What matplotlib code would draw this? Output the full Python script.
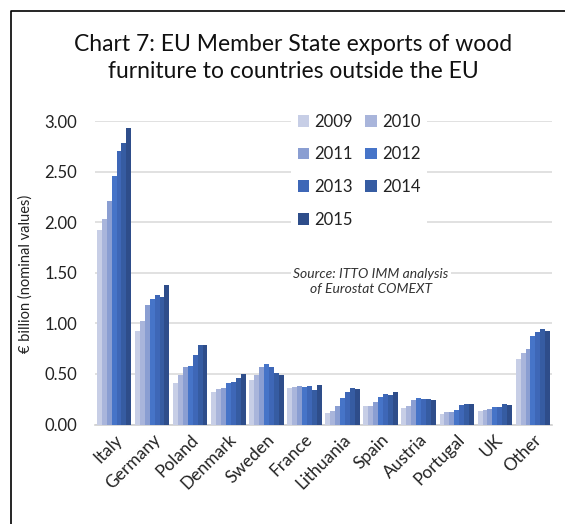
import matplotlib
matplotlib.use("Agg")
import matplotlib.pyplot as plt
import numpy as np
from matplotlib.lines import Line2D

plt.rcParams['font.family'] = ['Lato', 'DejaVu Sans']

countries = ["Italy", "Germany", "Poland", "Denmark", "Sweden", "France",
             "Lithuania", "Spain", "Austria", "Portugal", "UK", "Other"]
years = ["2009", "2010", "2011", "2012", "2013", "2014", "2015"]
v2009 = [1.92, 0.92, 0.41, 0.32, 0.44, 0.365, 0.11, 0.18, 0.16, 0.10, 0.13, 0.65]
v2010 = [2.03, 1.02, 0.49, 0.35, 0.49, 0.37, 0.13, 0.18, 0.18, 0.12, 0.14, 0.71]
v2011 = [2.21, 1.18, 0.57, 0.365, 0.565, 0.38, 0.18, 0.22, 0.24, 0.12, 0.15, 0.75]
v2012 = [2.46, 1.24, 0.58, 0.41, 0.60, 0.37, 0.26, 0.27, 0.26, 0.14, 0.17, 0.87]
v2013 = [2.70, 1.28, 0.69, 0.42, 0.565, 0.38, 0.32, 0.30, 0.25, 0.19, 0.17, 0.91]
v2014 = [2.78, 1.26, 0.79, 0.46, 0.51, 0.34, 0.36, 0.29, 0.25, 0.20, 0.20, 0.94]
v2015 = [2.93, 1.375, 0.79, 0.50, 0.49, 0.39, 0.35, 0.32, 0.24, 0.20, 0.19, 0.925]
series = [v2009, v2010, v2011, v2012, v2013, v2014, v2015]
colors = ["#c7cee6", "#a9b5db", "#8a9ed2", "#4674c8", "#3e67b7", "#365ca2", "#2e4d8a"]
yticks = [0.0, 0.5, 1.0, 1.5, 2.0, 2.5, 3.0]

W, H = 565, 524
fig = plt.figure(figsize=(W / 100, H / 100), dpi=100)
ax = fig.add_axes([95 / W, 1 - 424.5 / H, (552 - 95) / W, (424.5 - 121) / H])

x = np.arange(len(countries))
n = len(series)
gw = 0.905
bw = gw / n
handles = []
for i, (vals, c) in enumerate(zip(series, colors)):
    b = ax.bar(x - gw / 2 + bw * (i + 0.5), vals, width=bw, color=c, label=years[i], zorder=3)
    handles.append(b)

ax.set_xlim(-0.5, len(countries) - 0.5)
ax.set_ylim(0, 3.0)
ax.set_yticks(yticks)
ax.set_yticklabels([f"{t:.2f}" for t in yticks], fontsize=12, color="#222222")
ax.yaxis.grid(True, color="#dcdcdc", linewidth=1.2, zorder=0)
ax.set_axisbelow(True)
ax.tick_params(axis='y', length=0, pad=13)
ax.tick_params(axis='x', length=0, pad=5)
ax.set_xticks(x)
ax.set_xticklabels(countries, rotation=45, ha='right', rotation_mode='anchor',
                   fontsize=12.5, color="#222222")
for s in ["top", "right", "left"]:
    ax.spines[s].set_visible(False)
ax.spines["bottom"].set_color("#d0d0d0")
ax.spines["bottom"].set_linewidth(1.2)

ax.set_ylabel("€ billion (nominal values)", fontsize=10.5, color="#222222", labelpad=6)
ax.yaxis.set_label_coords((33 - 95) / (552 - 95), (424.5 - 274) / (424.5 - 121))

order = [0, 2, 4, 6, 1, 3, 5]
leg = fig.legend([handles[i] for i in order], [years[i] for i in order],
                 ncol=2, loc='upper left', bbox_to_anchor=(291 / W, 1 - 107 / H),
                 fontsize=12, frameon=True, fancybox=False, edgecolor='none',
                 facecolor='white', framealpha=1, handlelength=0.7, handleheight=0.7,
                 handletextpad=0.3, columnspacing=0.75, labelspacing=1.0,
                 borderpad=0.4, borderaxespad=0)
for t in leg.get_texts():
    t.set_color("#222222")

fig.text(371 / W, 1 - 282 / H, "Source: ITTO IMM analysis\nof Eurostat COMEXT",
         ha='center', va='center', fontsize=10, style='italic', color="#333333",
         linespacing=1.3, bbox=dict(facecolor='white', edgecolor='none', pad=2))

fig.text(293 / W, 1 - 58 / H, "Chart 7: EU Member State exports of wood\nfurniture to countries outside the EU",
         ha='center', va='center', fontsize=16.5, color="#111111", linespacing=1.35)

# outer frame (left and top edges visible)
fig.add_artist(Line2D([10.5 / W, 10.5 / W, 1.0], [0.0, 1 - 10.5 / H, 1 - 10.5 / H],
                      transform=fig.transFigure, color="black", linewidth=1.2))

fig.savefig("out.png", dpi=100)
